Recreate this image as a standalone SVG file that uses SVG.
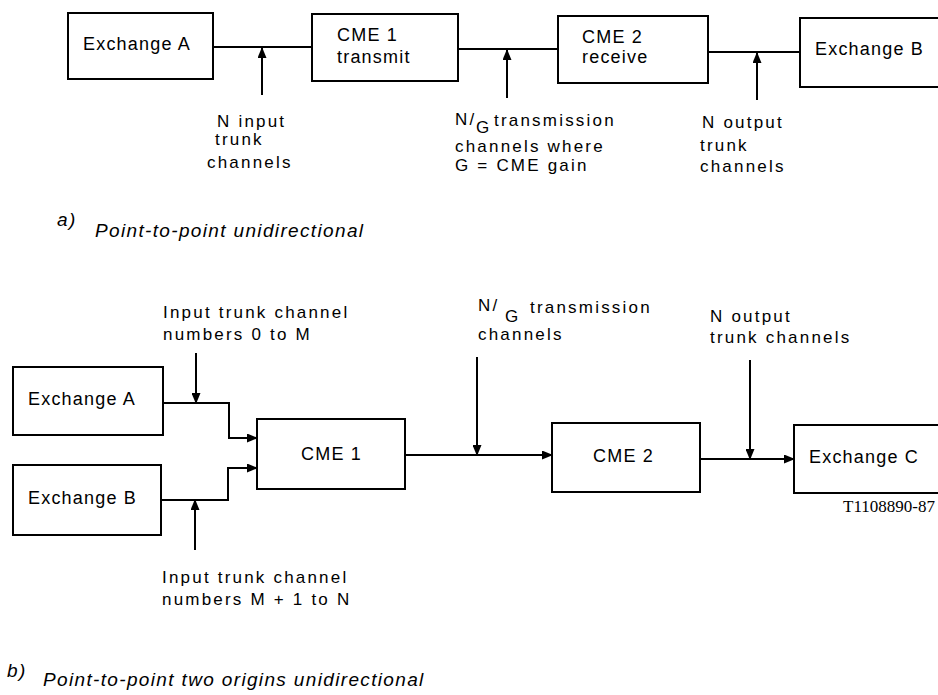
<svg xmlns="http://www.w3.org/2000/svg" width="938" height="695" viewBox="0 0 938 695">
<style>
  .box { fill: #fff; stroke: #000; stroke-width: 2; }
  .ln { fill: none; stroke: #000; stroke-width: 2; }
  .bt { font-family: "Liberation Sans", Arial, sans-serif; font-size: 18px; letter-spacing: 1.2px; fill: #000; }
  .lb { font-family: "Liberation Sans", Arial, sans-serif; font-size: 17px; letter-spacing: 2.2px; fill: #000; }
  .cap { font-family: "Liberation Sans", Arial, sans-serif; font-size: 19px; font-style: italic; letter-spacing: 1.35px; fill: #000; }
  .id { font-family: "Liberation Serif", "Times New Roman", serif; font-size: 17px; fill: #000; }
</style>
<defs>
  <marker id="ah" markerWidth="11" markerHeight="9" refX="10" refY="4.5" orient="auto" markerUnits="userSpaceOnUse">
    <path d="M0,0 L11,4.5 L0,9 z" fill="#000"/>
  </marker>
</defs>
<rect width="938" height="695" fill="#fff"/>

<!-- Part a nodes -->
<g id="a-exchangeA">
  <rect class="box" x="68" y="13" width="145" height="66"/>
  <text class="bt" x="83" y="50">Exchange A</text>
</g>
<g id="a-cme1">
  <rect class="box" x="312" y="14" width="146" height="67"/>
  <text class="bt" x="337" y="41">CME 1</text>
  <text class="bt" x="337" y="63">transmit</text>
</g>
<g id="a-cme2">
  <rect class="box" x="558" y="16" width="150" height="67"/>
  <text class="bt" x="582" y="43">CME 2</text>
  <text class="bt" x="582" y="63">receive</text>
</g>
<g id="a-exchangeB">
  <rect class="box" x="800" y="18" width="150" height="69"/>
  <text class="bt" x="815" y="55">Exchange B</text>
</g>

<!-- Part b nodes -->
<g id="b-exchangeA">
  <rect class="box" x="13" y="367" width="150" height="68"/>
  <text class="bt" x="28" y="405">Exchange A</text>
</g>
<g id="b-exchangeB">
  <rect class="box" x="13" y="465" width="148" height="70"/>
  <text class="bt" x="28" y="504">Exchange B</text>
</g>
<g id="b-cme1">
  <rect class="box" x="257" y="419" width="148" height="70"/>
  <text class="bt" x="301" y="460">CME 1</text>
</g>
<g id="b-cme2">
  <rect class="box" x="552" y="423" width="148" height="69"/>
  <text class="bt" x="593" y="462">CME 2</text>
</g>
<g id="b-exchangeC">
  <rect class="box" x="794" y="425" width="150" height="68"/>
  <text class="bt" x="809" y="463">Exchange C</text>
</g>

<!-- Connectors -->
<g id="connectors">
  <!-- part a -->
  <path class="ln" d="M213,47 H312"/>
  <path class="ln" d="M458,49 H558"/>
  <path class="ln" d="M708,52 H800"/>
  <path class="ln" d="M262,95 V48" marker-end="url(#ah)"/>
  <path class="ln" d="M507,98 V50" marker-end="url(#ah)"/>
  <path class="ln" d="M757,100 V53" marker-end="url(#ah)"/>
  <!-- part b -->
  <path class="ln" d="M163,403 H229 V438 H257" marker-end="url(#ah)"/>
  <path class="ln" d="M161,500 H228 V468 H257" marker-end="url(#ah)"/>
  <path class="ln" d="M196,353 V403" marker-end="url(#ah)"/>
  <path class="ln" d="M195,550 V500" marker-end="url(#ah)"/>
  <path class="ln" d="M405,455 H552" marker-end="url(#ah)"/>
  <path class="ln" d="M477,357 V455" marker-end="url(#ah)"/>
  <path class="ln" d="M700,459 H794" marker-end="url(#ah)"/>
  <path class="ln" d="M750,360 V459" marker-end="url(#ah)"/>
</g>

<!-- Part a labels -->
<g id="a-labels">
  <text class="lb" x="217" y="127">N input</text>
  <text class="lb" x="215" y="145">trunk</text>
  <text class="lb" x="207" y="168">channels</text>
  <text class="lb" x="455" y="125">N/</text>
  <text class="lb" x="476" y="133">G</text>
  <text class="lb" x="494" y="126">transmission</text>
  <text class="lb" x="455" y="152">channels where</text>
  <text class="lb" x="455" y="171">G = CME gain</text>
  <text class="lb" x="702" y="128">N output</text>
  <text class="lb" x="700" y="151">trunk</text>
  <text class="lb" x="700" y="172">channels</text>
  <text class="cap" x="57" y="226" font-size="15">a)</text>
  <text class="cap" x="95" y="237">Point-to-point unidirectional</text>
</g>

<!-- Part b labels -->
<g id="b-labels">
  <text class="lb" x="163" y="318">Input trunk channel</text>
  <text class="lb" x="163" y="340">numbers 0 to M</text>
  <text class="lb" x="478" y="311">N/</text>
  <text class="lb" x="505" y="322">G</text>
  <text class="lb" x="530" y="313">transmission</text>
  <text class="lb" x="478" y="340">channels</text>
  <text class="lb" x="710" y="322">N output</text>
  <text class="lb" x="710" y="343">trunk channels</text>
  <text class="lb" x="162" y="583">Input trunk channel</text>
  <text class="lb" x="162" y="605">numbers M + 1 to N</text>
  <text class="id" x="843" y="512">T1108890-87</text>
  <text class="cap" x="7" y="677" font-size="15">b)</text>
  <text class="cap" x="43" y="686">Point-to-point two origins unidirectional</text>
</g>
</svg>
